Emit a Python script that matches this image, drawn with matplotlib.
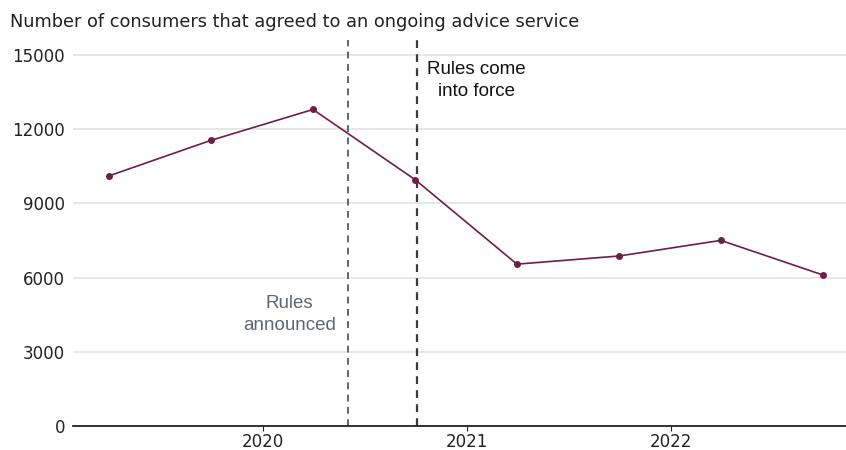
import matplotlib
matplotlib.use("Agg")
import matplotlib.pyplot as plt
import matplotlib.dates as mdates
import datetime as dt

dates = ["2019-03-31", "2019-09-30", "2020-03-31", "2020-09-30",
         "2021-03-31", "2021-09-30", "2022-03-31", "2022-09-30"]
values = [10100, 11540, 12790, 9950, 6540, 6870, 7500, 6100]
yticks = [0, 3000, 6000, 9000, 12000, 15000]
announced = "2020-06-01"
in_force = "2020-10-04"
title = "Number of consumers that agreed to an ongoing advice service"

x = [dt.datetime.strptime(d, "%Y-%m-%d") for d in dates]

fig = plt.figure(figsize=(8.46, 4.5), dpi=100)
ax = fig.add_axes([0.086, 0.0533, 0.914, 0.858])

ax.plot(x, values, color="#6e1e48", lw=1.2, marker="o", ms=4, zorder=3)

ax.axvline(dt.datetime.strptime(announced, "%Y-%m-%d"), color="#5f6670", ls=(0, (3.5, 2.8)), lw=1.4, zorder=2)
ax.axvline(dt.datetime.strptime(in_force, "%Y-%m-%d"), color="#3a3a3a", ls=(0, (3.5, 2.8)), lw=1.6, zorder=2)

ax.set_xlim(dt.datetime(2019, 1, 26), dt.datetime(2022, 11, 10))
ax.set_ylim(0, 15600)
ax.set_yticks(yticks)
ax.set_yticklabels([str(v) for v in yticks])
ax.xaxis.set_major_locator(mdates.YearLocator())
ax.xaxis.set_major_formatter(mdates.DateFormatter("%Y"))

ax.grid(axis="y", color="#e3e3e3", lw=1.2)
ax.grid(axis="x", visible=False)
ax.set_axisbelow(True)
for s in ["top", "right", "left"]:
    ax.spines[s].set_visible(False)
ax.spines["bottom"].set_color("#222222")
ax.spines["bottom"].set_linewidth(1.3)
ax.tick_params(axis="y", length=0, labelsize=12, pad=5.5, labelcolor="#222222")
ax.tick_params(axis="x", length=3.5, color="#222222", labelsize=12, pad=1.5, labelcolor="#222222")

fig.text(10/846, 1 - 22/450, title, fontsize=12.75, color="#222222", va="center", ha="left")

ax.text(dt.datetime(2020, 2, 18), 4500, "Rules\nannounced", ha="center", va="center",
        fontsize=13.5, color="#5f6670", family=["Liberation Sans", "DejaVu Sans"], linespacing=1.4)
ax.text(dt.datetime(2021, 1, 18), 13950, "Rules come\ninto force", ha="center", va="center",
        fontsize=13.5, color="#111111", family=["Liberation Sans", "DejaVu Sans"], linespacing=1.4)

fig.savefig("out.png", dpi=100)
